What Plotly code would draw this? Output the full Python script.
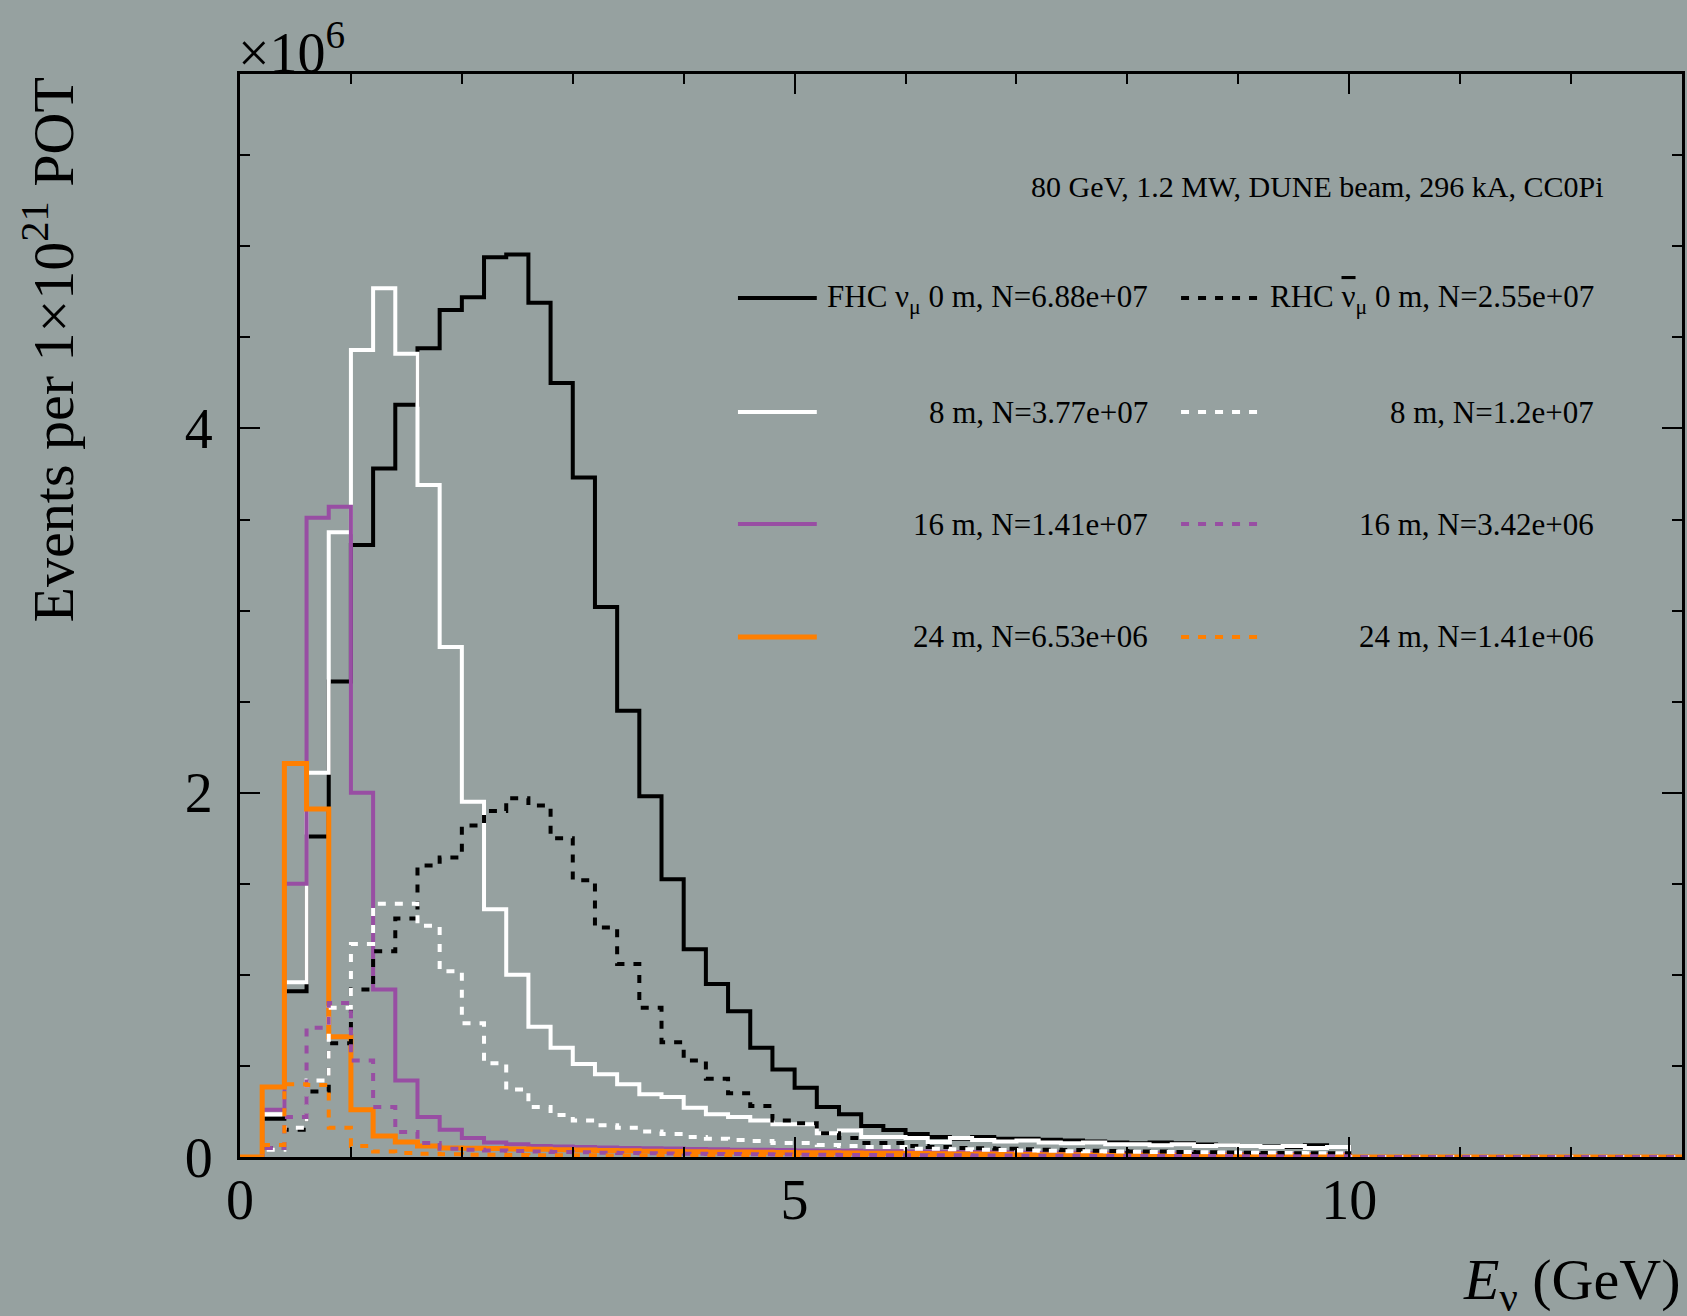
import numpy as np
import plotly.graph_objects as go

# ---------------------------------------------------------------------------
# Event spectra, CC0Pi selection, in units of 10^6 events per 0.2 GeV bin.
# Bins cover 0-10 GeV; the axis runs to 13 GeV where the histograms are empty.
# ---------------------------------------------------------------------------
BIN_WIDTH = 0.2
AXIS_MAX_E = 13.0

fhc_0m = [0.0, 0.21, 0.91, 1.76, 2.61, 3.36, 3.78, 4.13, 4.44, 4.65,
          4.72, 4.94, 4.955, 4.69, 4.25, 3.73, 3.02, 2.45, 1.98, 1.525,
          1.14, 0.95, 0.80, 0.60, 0.48, 0.38, 0.275, 0.235, 0.17, 0.148,
          0.126, 0.11, 0.10, 0.11, 0.10, 0.10, 0.095, 0.09, 0.085, 0.08,
          0.075, 0.08, 0.075, 0.068, 0.065, 0.06, 0.058, 0.055, 0.065, 0.055]

fhc_8m = [0.0, 0.235, 0.96, 2.11, 3.43, 4.43, 4.77, 4.41, 3.69, 2.80,
          1.95, 1.36, 1.00, 0.715, 0.60, 0.51, 0.455, 0.40, 0.345, 0.33,
          0.27, 0.235, 0.22, 0.20, 0.18, 0.18, 0.13, 0.145, 0.11, 0.11,
          0.104, 0.083, 0.104, 0.094, 0.085, 0.09, 0.08, 0.075, 0.08, 0.07,
          0.07, 0.065, 0.07, 0.06, 0.065, 0.06, 0.055, 0.06, 0.05, 0.055]

fhc_16m = [0.0, 0.26, 1.50, 3.51, 3.57, 2.00, 0.92, 0.42, 0.22, 0.15,
           0.105, 0.08, 0.07, 0.06, 0.058, 0.055, 0.052, 0.05, 0.048, 0.046,
           0.044, 0.042, 0.04, 0.04, 0.038, 0.036, 0.035, 0.034, 0.032, 0.031,
           0.03, 0.029, 0.028, 0.027, 0.026, 0.025, 0.024, 0.023, 0.022, 0.021,
           0.02, 0.02, 0.019, 0.018, 0.018, 0.017, 0.016, 0.016, 0.015, 0.015]

fhc_24m = [0.0, 0.385, 2.16, 1.91, 0.66, 0.26, 0.115, 0.082, 0.06, 0.05,
           0.048, 0.046, 0.044, 0.042, 0.04, 0.038, 0.036, 0.034, 0.032, 0.03,
           0.029, 0.028, 0.027, 0.026, 0.025, 0.024, 0.023, 0.022, 0.021, 0.02,
           0.019, 0.018, 0.017, 0.016, 0.015, 0.014, 0.013, 0.012, 0.012, 0.011,
           0.011, 0.01, 0.01, 0.01, 0.009, 0.009, 0.008, 0.008, 0.008, 0.007]

rhc_0m = [0.0, 0.05, 0.15, 0.36, 0.625, 0.92, 1.13, 1.31, 1.60, 1.645,
          1.82, 1.90, 1.97, 1.93, 1.75, 1.52, 1.26, 1.06, 0.82, 0.63,
          0.53, 0.43, 0.35, 0.28, 0.20, 0.185, 0.13, 0.104, 0.077, 0.077,
          0.06, 0.055, 0.05, 0.048, 0.045, 0.042, 0.04, 0.038, 0.035, 0.033,
          0.03, 0.03, 0.028, 0.026, 0.025, 0.024, 0.022, 0.021, 0.02, 0.02]

rhc_8m = [0.0, 0.04, 0.16, 0.42, 0.82, 1.17, 1.39, 1.39, 1.27, 1.02,
          0.735, 0.515, 0.37, 0.275, 0.23, 0.20, 0.175, 0.16, 0.14, 0.126,
          0.11, 0.10, 0.093, 0.088, 0.077, 0.077, 0.066, 0.06, 0.055, 0.055,
          0.045, 0.045, 0.042, 0.04, 0.038, 0.036, 0.034, 0.032, 0.031, 0.03,
          0.029, 0.028, 0.027, 0.026, 0.025, 0.024, 0.023, 0.022, 0.021, 0.02]

rhc_16m = [0.0, 0.05, 0.22, 0.71, 0.845, 0.53, 0.275, 0.137, 0.077, 0.045,
           0.04, 0.036, 0.033, 0.03, 0.028, 0.026, 0.024, 0.022, 0.02, 0.019,
           0.018, 0.017, 0.016, 0.015, 0.014, 0.013, 0.012, 0.011, 0.011, 0.01,
           0.01, 0.009, 0.009, 0.008, 0.008, 0.007, 0.007, 0.007, 0.006, 0.006,
           0.006, 0.005, 0.005, 0.005, 0.005, 0.004, 0.004, 0.004, 0.004, 0.004]

rhc_24m = [0.0, 0.066, 0.40, 0.395, 0.16, 0.06, 0.03, 0.022, 0.018, 0.015,
           0.013, 0.012, 0.011, 0.01, 0.009, 0.009, 0.008, 0.008, 0.007, 0.007,
           0.006, 0.006, 0.006, 0.005, 0.005, 0.005, 0.005, 0.004, 0.004, 0.004,
           0.004, 0.004, 0.003, 0.003, 0.003, 0.003, 0.003, 0.003, 0.003, 0.003,
           0.003, 0.003, 0.003, 0.003, 0.003, 0.003, 0.003, 0.003, 0.003, 0.003]

# Total selected events for each configuration (shown in the legend)
fhc_totals = [6.88e7, 3.77e7, 1.41e7, 6.53e6]
rhc_totals = [2.55e7, 1.2e7, 3.42e6, 1.41e6]

offsets_m = [0, 8, 16, 24]
series_colors = ["#000000", "#ffffff", "#984ea3", "#ff7f00"]
solid_widths = [4, 4, 4, 5]
DASH = "8px,9px"

header_text = "80 GeV, 1.2 MW, DUNE beam, 296 kA, CC0Pi"

# ---------------------------------------------------------------------------
BG = "#96a1a0"
FONT = "Liberation Serif"
LEG_SIZE = 31
W, H = 1687, 1316
M_L, M_R, M_T, M_B = 240, 2, 74, 159
PLOT_W = W - M_L - M_R
PLOT_H = H - M_T - M_B


def px_x(px):
    """Page pixel column -> paper x."""
    return (px - M_L) / PLOT_W


def px_y(py):
    """Page pixel row -> paper y."""
    return (H - M_B - py) / PLOT_H


n_axis_bins = int(round(AXIS_MAX_E / BIN_WIDTH))
edges = np.round(np.arange(n_axis_bins + 1) * BIN_WIDTH, 6)


def step_xy(contents):
    # empty bins above the last filled one, up to the end of the axis
    vals = list(contents) + [0.0] * (n_axis_bins - len(contents))
    return edges, vals + [vals[-1]]


fhc = [fhc_0m, fhc_8m, fhc_16m, fhc_24m]
rhc = [rhc_0m, rhc_8m, rhc_16m, rhc_24m]

fig = go.Figure()

for hist, off, col, lw in zip(fhc, offsets_m, series_colors, solid_widths):
    x, y = step_xy(hist)
    fig.add_trace(go.Scatter(x=x, y=y, mode="lines", line_shape="hv",
                             line=dict(color=col, width=lw),
                             name=f"FHC {off} m", showlegend=False,
                             hoverinfo="skip"))

for hist, off, col in zip(rhc, offsets_m, series_colors):
    x, y = step_xy(hist)
    fig.add_trace(go.Scatter(x=x, y=y, mode="lines", line_shape="hv",
                             line=dict(color=col, width=4, dash=DASH),
                             name=f"RHC {off} m", showlegend=False,
                             hoverinfo="skip"))

y_top = 1.2 * max(max(h) for h in fhc + rhc)

annotations = []
shapes = []

# header line
annotations.append(dict(text=header_text, x=px_x(1609), y=px_y(186),
                        xref="paper", yref="paper", xanchor="right",
                        yanchor="middle", showarrow=False,
                        font=dict(family=FONT, size=30, color="black")))

# two-column legend
NU_BAR = '<span style="text-decoration:overline">ν</span>'
row_text_y = [299, 412, 524, 637]
row_line_y = [298, 412, 524, 637]
for i, (off, col, lw) in enumerate(zip(offsets_m, series_colors, solid_widths)):
    if i == 0:
        lab_f = f"FHC ν<sub>μ</sub> {off} m, N={fhc_totals[i]:.3g}"
        lab_r = f"RHC {NU_BAR}<sub>μ</sub> {off} m, N={rhc_totals[i]:.3g}"
    else:
        lab_f = f"{off} m, N={fhc_totals[i]:.3g}"
        lab_r = f"{off} m, N={rhc_totals[i]:.3g}"
    annotations.append(dict(text=lab_f, x=px_x(1152), y=px_y(row_text_y[i]),
                            xref="paper", yref="paper", xanchor="right",
                            yanchor="middle", showarrow=False,
                            font=dict(family=FONT, size=LEG_SIZE, color="black")))
    annotations.append(dict(text=lab_r, x=px_x(1599), y=px_y(row_text_y[i]),
                            xref="paper", yref="paper", xanchor="right",
                            yanchor="middle", showarrow=False,
                            font=dict(family=FONT, size=LEG_SIZE, color="black")))
    shapes.append(dict(type="line", xref="paper", yref="paper",
                       x0=px_x(739), x1=px_x(818),
                       y0=px_y(row_line_y[i]), y1=px_y(row_line_y[i]),
                       line=dict(color=col, width=lw)))
    shapes.append(dict(type="line", xref="paper", yref="paper",
                       x0=px_x(1183), x1=px_x(1261),
                       y0=px_y(row_line_y[i]), y1=px_y(row_line_y[i]),
                       line=dict(color=col, width=4, dash=DASH)))

# axis titles and exponent
annotations.append(dict(text="<i>E</i><sub>ν</sub> (GeV)", x=1.0, y=px_y(1283),
                        xref="paper", yref="paper", xanchor="right",
                        yanchor="middle", showarrow=False,
                        font=dict(family=FONT, size=58, color="black")))
annotations.append(dict(text="Events per 1×10<sup>21</sup> POT", x=px_x(48),
                        y=px_y(350), xref="paper", yref="paper",
                        xanchor="center", yanchor="middle", textangle=-90,
                        showarrow=False,
                        font=dict(family=FONT, size=58, color="black")))
annotations.append(dict(text="×10<sup>6</sup>", x=px_x(236), y=px_y(48),
                        xref="paper", yref="paper", xanchor="left",
                        yanchor="middle", showarrow=False,
                        font=dict(family=FONT, size=56, color="black")))

axis_common = dict(showline=True, linecolor="black", linewidth=3,
                   mirror="ticks", ticks="inside", ticklen=20, tickwidth=2,
                   tickcolor="black", showgrid=False, zeroline=False,
                   tickfont=dict(family=FONT, size=56, color="black"))

fig.update_layout(
    width=W, height=H,
    margin=dict(l=M_L, r=M_R, t=M_T, b=M_B),
    paper_bgcolor=BG, plot_bgcolor=BG,
    xaxis=dict(range=[0, AXIS_MAX_E], dtick=5, tick0=0, ticklabelstandoff=-8,
               minor=dict(dtick=1, ticklen=10, tickwidth=2,
                          tickcolor="black", ticks="inside", showgrid=False),
               **axis_common),
    yaxis=dict(range=[0, y_top], dtick=2, tick0=0, ticklabelstandoff=13,
               minor=dict(dtick=0.5, ticklen=10, tickwidth=2,
                          tickcolor="black", ticks="inside", showgrid=False),
               **axis_common),
    annotations=annotations,
    shapes=shapes,
    showlegend=False,
)

fig.write_html("out.html")
